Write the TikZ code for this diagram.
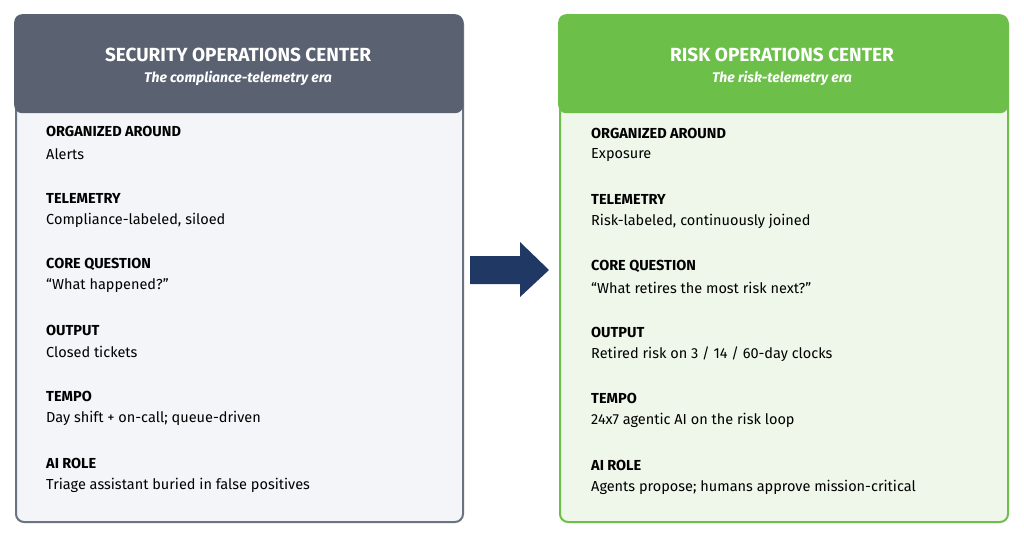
\documentclass[tikz,border=0pt]{standalone}
\usepackage{fontspec}
\setmainfont{Fira Sans}
\begin{document}
\begin{tikzpicture}[x=1pt,y=-1pt,
  lbl/.style={anchor=west,font=\fontsize{14.5}{16}\selectfont\bfseries,inner sep=0},
  val/.style={anchor=west,font=\fontsize{14.5}{16}\selectfont\addfontfeature{}\mdseries,inner sep=0},
  ttl/.style={text=white,font=\fontsize{19}{22}\selectfont\bfseries,inner sep=0},
  sub/.style={text=white,font=\fontsize{14}{16}\selectfont\bfseries\itshape,inner sep=0}]
\definecolor{hdrL}{HTML}{5A6272}
\definecolor{bodyL}{HTML}{F3F5F9}
\definecolor{brdL}{HTML}{6B7280}
\definecolor{hdrR}{HTML}{6CC04A}
\definecolor{bodyR}{HTML}{EEF7EA}
\definecolor{arr}{HTML}{1F3864}
\useasboundingbox (0,0) rectangle (1024,535);
% left
\node[draw=brdL,line width=2pt,fill=bodyL,rounded corners=8pt,minimum width=447pt,minimum height=506pt,anchor=north west,inner sep=0] (lbox) at (15,15) {};
\node[fill=hdrL,rounded corners=8pt,minimum width=449pt,minimum height=99pt,anchor=north west,inner sep=0] (lhdr) at (14,14) {};
\node[ttl] (lt) at (238,55) {SECURITY OPERATIONS CENTER};
\node[sub] (ls) at (238,78) {The compliance-telemetry era};
% right
\node[draw=hdrR,line width=2pt,fill=bodyR,rounded corners=8pt,minimum width=448pt,minimum height=506pt,anchor=north west,inner sep=0] (rbox) at (559,15) {};
\node[fill=hdrR,rounded corners=8pt,minimum width=450pt,minimum height=99pt,anchor=north west,inner sep=0] (rhdr) at (558,14) {};
\node[ttl] (rt) at (782,55) {RISK OPERATIONS CENTER};
\node[sub] (rs) at (782,78) {The risk-telemetry era};
% arrow
\fill[arr] (470,256) -- (520,256) -- (520,242) -- (549,270) -- (520,297) -- (520,284) -- (470,284) -- cycle;
% left text
\node[lbl] (l1) at (46,131) {ORGANIZED AROUND};
\node[val] (v1) at (46,154) {Alerts};
\node[lbl] (l2) at (46,198) {TELEMETRY};
\node[val] (v2) at (46,220) {Compliance-labeled, siloed};
\node[lbl] (l3) at (46,264) {CORE QUESTION};
\node[val] (v3) at (46,286) {“What happened?”};
\node[lbl] (l4) at (46,330) {OUTPUT};
\node[val] (v4) at (46,352) {Closed tickets};
\node[lbl] (l5) at (46,396) {TEMPO};
\node[val] (v5) at (46,418) {Day shift + on-call; queue-driven};
\node[lbl] (l6) at (46,463) {AI ROLE};
\node[val] (v6) at (46,485) {Triage assistant buried in false positives};
% right text
\node[lbl] (r1) at (591,133) {ORGANIZED AROUND};
\node[val] (w1) at (591,155) {Exposure};
\node[lbl] (r2) at (591,199) {TELEMETRY};
\node[val] (w2) at (591,221) {Risk-labeled, continuously joined};
\node[lbl] (r3) at (591,266) {CORE QUESTION};
\node[val] (w3) at (591,288) {“What retires the most risk next?”};
\node[lbl] (r4) at (591,332) {OUTPUT};
\node[val] (w4) at (591,354) {Retired risk on 3 / 14 / 60-day clocks};
\node[lbl] (r5) at (591,398) {TEMPO};
\node[val] (w5) at (591,420) {24x7 agentic AI on the risk loop};
\node[lbl] (r6) at (591,465) {AI ROLE};
\node[val] (w6) at (591,487) {Agents propose; humans approve mission-critical};
\end{tikzpicture}
\end{document}
